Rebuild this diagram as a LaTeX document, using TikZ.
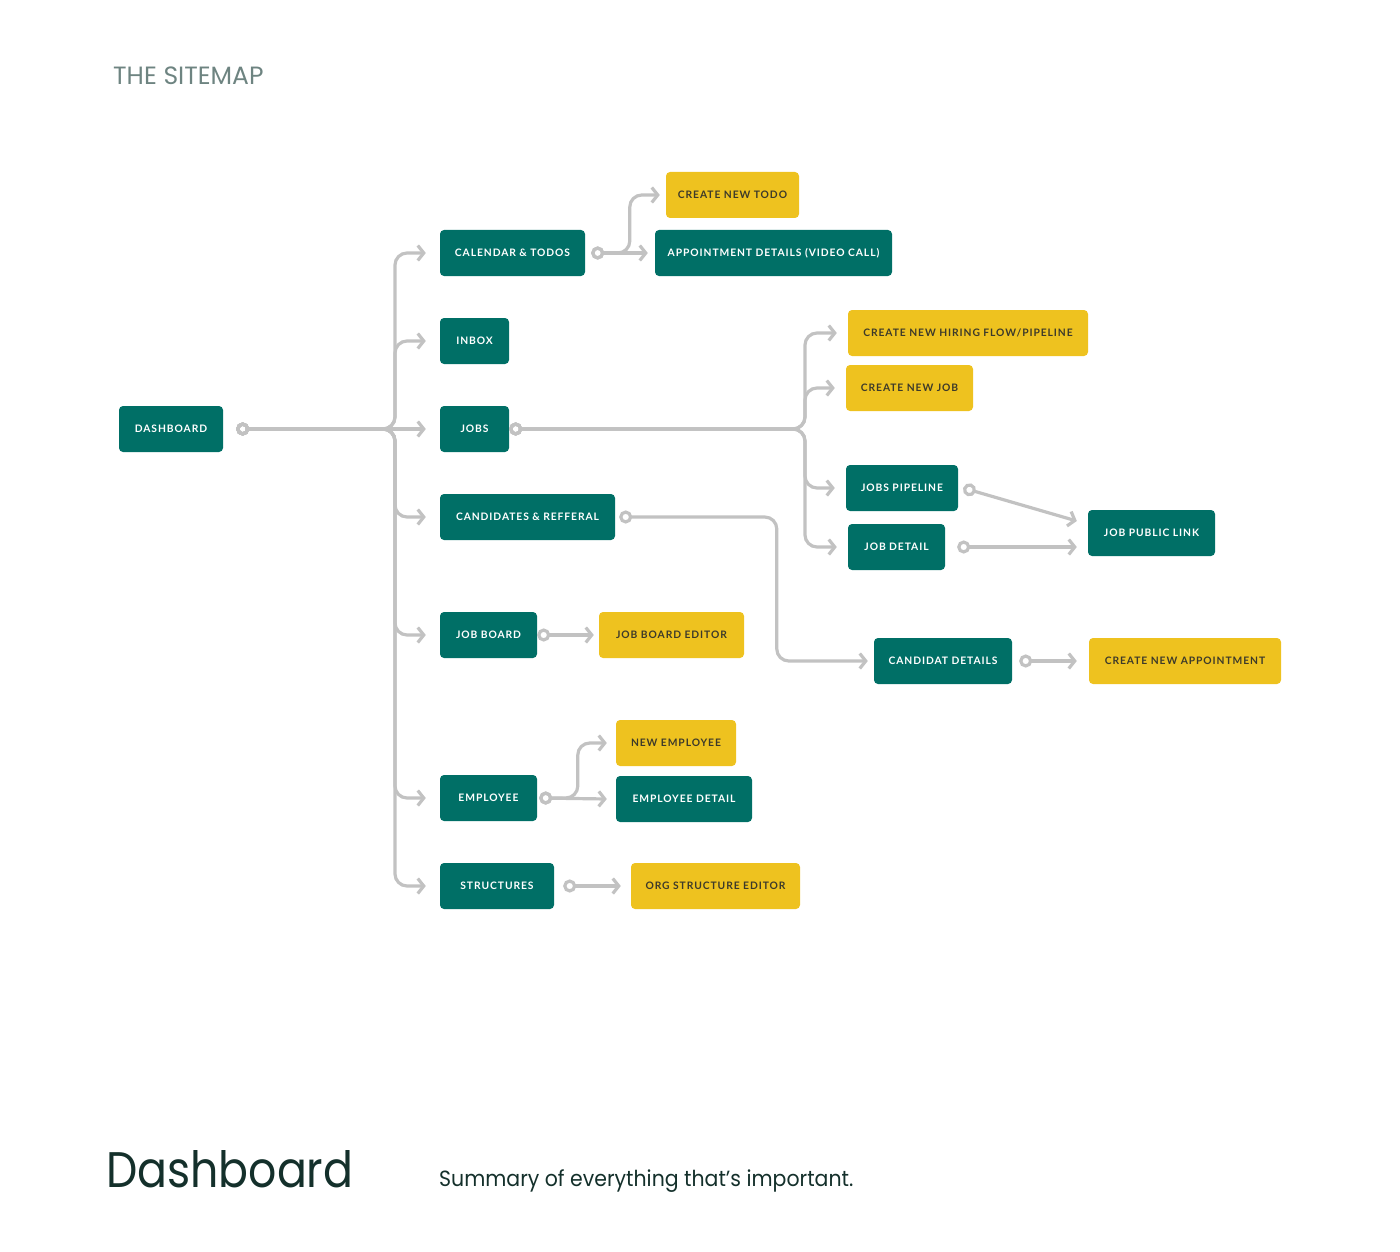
\documentclass[tikz,border=0pt]{standalone}
\usepackage{fontspec}
\setmainfont{Poppins}
\newfontfamily\labelfont[LetterSpace=9]{Lato}
\newfontfamily\headfont{Poppins}
\newfontfamily\pagefont[FakeStretch=0.885]{Poppins}
\newfontfamily\subfont[FakeStretch=0.93]{Poppins}
\usetikzlibrary{arrows.meta}

\definecolor{boxteal}{HTML}{006F66}
\definecolor{boxyellow}{HTML}{EEC21F}
\definecolor{boxtext}{HTML}{3D3A2A}
\definecolor{linkgray}{HTML}{C2C2C2}
\definecolor{titlegray}{HTML}{6E8481}
\definecolor{footdark}{HTML}{14302B}

\begin{document}
\begin{tikzpicture}
			[x=1pt,y=-1pt,
			box/.style={rounded corners=4pt,minimum height=46pt,inner xsep=4pt,font=\labelfont\bfseries\fontsize{10.3}{12}\selectfont},
			tealbox/.style={box,fill=boxteal,text=white},
			yellowbox/.style={box,fill=boxyellow,text=boxtext},
			link/.style={draw=linkgray,line width=3.2pt,rounded corners=12pt,
				{Circle[open,length=13pt,width=13pt]}-{Straight Barb[length=6pt,width=15pt]}}]
			\useasboundingbox (0,0) rectangle (1400,1252);
			
			\node[anchor=base west,inner sep=0,text=titlegray,font=\headfont\fontsize{25}{30}\selectfont] (title) at (113,85) {THE SITEMAP};
			
			\node[tealbox,minimum width=104] (dash) at (171,429) {DASHBOARD};
			\node[tealbox,minimum width=145] (cal) at (512.5,253) {CALENDAR \& TODOS};
			\node[tealbox,minimum width=69] (inbox) at (474.5,341) {INBOX};
			\node[tealbox,minimum width=69] (jobs) at (474.5,429) {JOBS};
			\node[tealbox,minimum width=175] (cand) at (527.5,517) {CANDIDATES \& REFFERAL};
			\node[tealbox,minimum width=97] (jboard) at (488.5,635) {JOB BOARD};
			\node[tealbox,minimum width=97] (empl) at (488.5,798) {EMPLOYEE};
			\node[tealbox,minimum width=114] (struct) at (497,886) {STRUCTURES};
			
			\node[yellowbox,minimum width=133] (todo) at (732.5,195) {CREATE NEW TODO};
			\node[tealbox,minimum width=237] (appt) at (773.5,253) {APPOINTMENT DETAILS (VIDEO CALL)};
			\node[yellowbox,minimum width=240] (newflow) at (968,333) {CREATE NEW HIRING FLOW/PIPELINE};
			\node[yellowbox,minimum width=127] (newjob) at (909.5,388) {CREATE NEW JOB};
			\node[tealbox,minimum width=112] (jpipe) at (902,488) {JOBS PIPELINE};
			\node[tealbox,minimum width=97] (jdet) at (896.5,547) {JOB DETAIL};
			\node[tealbox,minimum width=127] (plink) at (1151.5,533) {JOB PUBLIC LINK};
			\node[tealbox,minimum width=138] (cdet) at (943,661) {CANDIDAT DETAILS};
			\node[yellowbox,minimum width=192] (newappt) at (1185,661) {CREATE NEW APPOINTMENT};
			\node[yellowbox,minimum width=145] (jbedit) at (671.5,635) {JOB BOARD EDITOR};
			\node[yellowbox,minimum width=120] (newemp) at (676,743) {NEW EMPLOYEE};
			\node[tealbox,minimum width=136] (edet) at (684,799) {EMPLOYEE DETAIL};
			\node[yellowbox,minimum width=169] (orged) at (715.5,886) {ORG STRUCTURE EDITOR};
			
			\coordinate (dj) at (395,429);
			\coordinate (jj) at (805,429);
			
			\foreach \to in {cal,inbox,cand,jboard,empl,struct}
			\draw[link] ([xshift=13]dash.east) -- (dj) |- ([xshift=-14]\to.west);
			\draw[link] ([xshift=13]dash.east) -- ([xshift=-14]jobs.west);
			
			\foreach \to in {newflow,newjob,jpipe,jdet}
			\draw[link] ([xshift=0]jobs.east) -- (jj) |- ([xshift=-11]\to.west);
			
			\foreach \from/\gap/\to/\back in
			{cal/6/appt/-7, jboard/0/jbedit/-5, empl/2/edet/-9, struct/9/orged/-10, cdet/7/newappt/-12}
			\draw[link] ([xshift=\gap]\from.east) -- ([xshift=\back]\to.west);
			
			\draw[link] ([xshift=6]cal.east) -| ([xshift=-36]todo.west) -- ([xshift=-6]todo.west);
			\draw[link] ([xshift=2]empl.east) -| ([xshift=-38]newemp.west) -- ([xshift=-9]newemp.west);
			\draw[link] ([xshift=4]cand.east) -| ([xshift=-97]cdet.west) -- ([xshift=-6]cdet.west);
			\draw[link] ([xshift=5]jpipe.east) -- ([xshift=-11,yshift=12]plink.west);
			\draw[link] ([xshift=12]jdet.east) -- ([xshift=-11,yshift=-14]plink.west);
			
			\node[anchor=base west,inner sep=0,text=footdark,font=\pagefont\fontsize{50}{60}\selectfont] (page) at (106,1187) {Dashboard};
			\node[anchor=base west,inner sep=0,text=footdark,font=\subfont\fontsize{22}{26}\selectfont] (summary) at (439,1186) {Summary of everything that’s important.};
\end{tikzpicture}
\end{document}
